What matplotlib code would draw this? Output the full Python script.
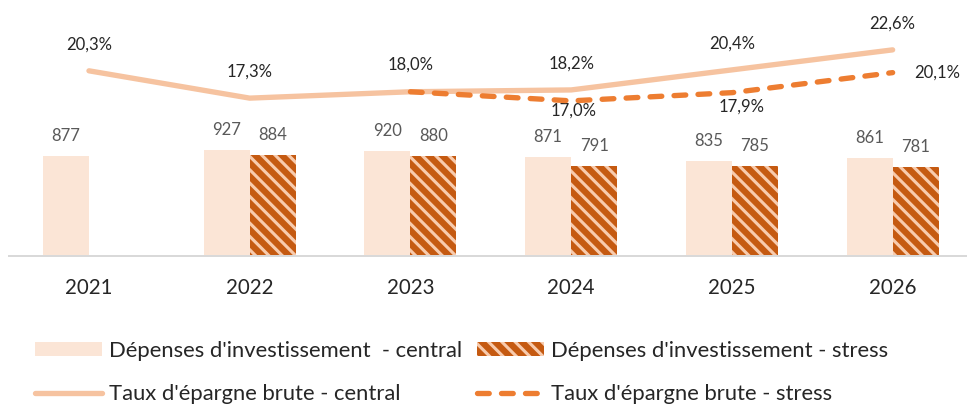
import numpy as np
import matplotlib
matplotlib.use("Agg")
import matplotlib.pyplot as plt
from matplotlib.patches import Patch
from matplotlib.lines import Line2D

# ---- data ----
years = ["2021", "2022", "2023", "2024", "2025", "2026"]
invest_central = [877, 927, 920, 871, 835, 861]
invest_stress = [np.nan, 884, 880, 791, 785, 781]
taux_central = [20.3, 17.3, 18.0, 18.2, 20.4, 22.6]
taux_stress = [np.nan, np.nan, 18.0, 17.0, 17.9, 20.1]

labels = ["Dépenses d'investissement  - central",
          "Dépenses d'investissement - stress",
          "Taux d'épargne brute - central",
          "Taux d'épargne brute - stress"]

# ---- style ----
DPI = 80
plt.rcParams['font.family'] = ['Lato', 'DejaVu Sans']
plt.rcParams['hatch.linewidth'] = 2.8

c_bar_c = '#FBE5D6'
c_bar_s = '#C55A11'
c_hatch = '#F8CBAD'
c_line_c = '#F6C3A0'
c_line_s = '#ED7D31'
HATCH = '\\\\'

fig = plt.figure(figsize=(967 / DPI, 404 / DPI), dpi=DPI)
W, H = 967, 404
left_px, right_px, top_px, base_px = 8.6, 973.0, 28.0, 255.7
ax = fig.add_axes([left_px / W, 1 - base_px / H,
                   (right_px - left_px) / W, (base_px - top_px) / H])
ax2 = ax.twinx()

x = np.arange(len(years))
bw = 0.286

ax.bar(x - bw / 2, invest_central, width=bw, color=c_bar_c,
       linewidth=0, zorder=2)
ax.bar(x + bw / 2, invest_stress, width=bw, color=c_bar_s,
       edgecolor=c_hatch, hatch=HATCH, linewidth=0, zorder=2)

ax.set_ylim(0, 2000)
ax.set_xlim(-0.5, len(years) - 0.5)
ax2.set_ylim(0, 25)

for s in ['top', 'left', 'right']:
    ax.spines[s].set_visible(False)
    ax2.spines[s].set_visible(False)
ax2.spines['bottom'].set_visible(False)
ax.spines['bottom'].set_color('#D9D9D9')
ax.spines['bottom'].set_linewidth(1.8)
ax.set_yticks([])
ax2.set_yticks([])
ax.set_xticks(x)
ax.set_xticklabels(years, fontsize=18.5, color='#262626')
ax.tick_params(axis='x', length=0, pad=20.5)

# bar value labels
for xi, v in zip(x, invest_central):
    ax.annotate(f"{v:d}", (xi - bw / 2, v), xytext=(0, 18),
                textcoords='offset points', ha='center', va='center',
                fontsize=15, color='#595959')
for xi, v in zip(x, invest_stress):
    if not np.isnan(v):
        ax.annotate(f"{int(v):d}", (xi + bw / 2, v), xytext=(0, 18),
                    textcoords='offset points', ha='center', va='center',
                    fontsize=15, color='#595959')

# lines
lw = 4.8
dash = (0, (2.2, 2.3))
ax2.plot(x, taux_central, color=c_line_c, lw=lw, solid_capstyle='round',
         solid_joinstyle='round', zorder=3)
ax2.plot(x, taux_stress, color=c_line_s, lw=lw, linestyle=dash,
         dash_capstyle='round', zorder=4)

def pct(v):
    return f"{v:.1f}%".replace('.', ',')

for xi, v in zip(x, taux_central):
    ax2.annotate(pct(v), (xi, v), xytext=(0, 24), textcoords='offset points',
                 ha='center', va='center', fontsize=15, color='#262626')

stress_offsets = {3: (2, -9), 4: (9, -13), 5: (40.5, 0)}
for i, (xi, v) in enumerate(zip(x, taux_stress)):
    if i in stress_offsets and not np.isnan(v):
        ax2.annotate(pct(v), (xi, v), xytext=stress_offsets[i],
                     textcoords='offset points', ha='center', va='center',
                     fontsize=15, color='#262626')

# legend
handles = [
    Patch(facecolor=c_bar_c, linewidth=0),
    Line2D([], [], color=c_line_c, lw=lw, solid_capstyle='round'),
    Patch(facecolor=c_bar_s, edgecolor=c_hatch, hatch=HATCH, linewidth=0),
    Line2D([], [], color=c_line_s, lw=lw, linestyle=dash,
           dash_capstyle='round'),
]
leg_labels = [labels[0], labels[2], labels[1], labels[3]]
fs_leg = 19.8
fig.legend(handles, leg_labels, loc='center left',
           bbox_to_anchor=(35 / W, 1 - 372.5 / H), ncol=2, frameon=False,
           fontsize=fs_leg, handlelength=3.05, handleheight=0.62,
           handletextpad=0.32, columnspacing=0.65, labelspacing=1.08,
           borderpad=0, borderaxespad=0, labelcolor='#262626')

fig.savefig('out.png', dpi=DPI)
